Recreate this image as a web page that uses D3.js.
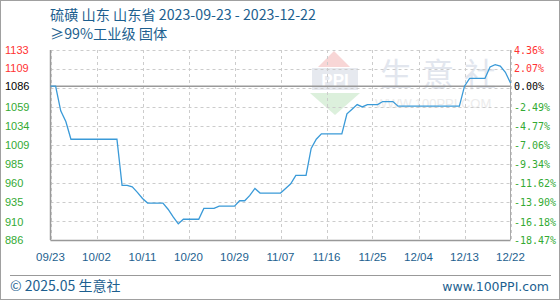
<!DOCTYPE html>
<html>
<head>
<meta charset="utf-8">
<script src="https://cdn.jsdelivr.net/npm/d3@7"></script>
<style>
  body { margin: 0; background: #fff; }
  svg text { font-family: "Liberation Sans", Arial, sans-serif; }
</style>
</head>
<body>
<div id="chart"></div>
<script>
// price series, one value per day from 2023-09-23 to 2023-12-22
var startDate = "2023-09-23";
var prices = [
  1086, 1086, 1054, 1040, 1017, 1017, 1017, 1017, 1017, 1017,
  1017, 1017, 1017, 1017, 957, 957, 955, 948, 940, 934,
  934, 934, 934, 926, 916, 907, 913, 913, 913, 913,
  927, 927, 927, 930, 930, 930, 930, 937, 937, 944,
  953, 947, 947, 947, 947, 947, 953, 959, 970, 970,
  970, 1005, 1017, 1024, 1024, 1024, 1024, 1024, 1050, 1056,
  1062, 1059, 1062, 1062, 1062, 1066, 1066, 1066, 1060, 1060,
  1060, 1060, 1060, 1060, 1060, 1060, 1060, 1060, 1060, 1060,
  1060, 1086, 1096, 1096, 1096, 1096, 1111, 1114, 1112, 1104,
  1090
];
var baseValue = 1086;
var yTickValues = [1133, 1109, 1086, 1059, 1034, 1009, 985, 960, 935, 910, 886];
var yTickPercents = ["4.36%", "2.07%", "0.00%", "-2.49%", "-4.77%", "-7.06%", "-9.34%", "-11.62%", "-13.90%", "-16.18%", "-18.47%"];
var xTickLabels = ["09/23", "10/02", "10/11", "10/20", "10/29", "11/07", "11/16", "11/25", "12/04", "12/13", "12/22"];
var titleLine1 = "硫磺 山东 山东省 2023-09-23 - 2023-12-22";
var titleLine2 = "≥99%工业级 固体";

var width = 560, height = 300;
var plotLeft = 50.5, plotRight = 510.5, plotTop = 50, plotBottom = 240;

var svg = d3.select("#chart").append("svg")
    .attr("width", width)
    .attr("height", height);

// outer frame
svg.append("rect")
    .attr("x", 0.5).attr("y", 0.5)
    .attr("width", width - 1).attr("height", height - 1)
    .attr("fill", "#fff").attr("stroke", "#a0a0a0");

var parse = d3.timeParse("%Y-%m-%d");
var t0 = parse(startDate);
var data = prices.map(function(v, i) { return { date: d3.timeDay.offset(t0, i), value: v }; });

var x = d3.scaleTime()
    .domain([t0, d3.timeDay.offset(t0, prices.length - 1)])
    .range([plotLeft, plotRight]);
var y = d3.scaleLinear()
    .domain([d3.min(yTickValues), d3.max(yTickValues)])
    .range([plotBottom, plotTop]);

// watermark
var wm = svg.append("g");
wm.append("path")
    .attr("d", "M318,67 L334,51 L350,67 Z")
    .attr("fill", "#f8d6d6");
wm.append("rect")
    .attr("x", 312).attr("y", 68).attr("width", 46).attr("height", 22)
    .attr("fill", "#e6e9ef");
wm.append("text")
    .attr("x", 335).attr("y", 86)
    .attr("text-anchor", "middle")
    .attr("font-size", 17).attr("font-weight", "bold")
    .attr("fill", "#ffffff")
    .text("PPI");
wm.append("path")
    .attr("d", "M310,93 L360,93 L335,115 Z")
    .attr("fill", "#dcf0dc");
wm.append("text")
    .attr("x", 380).attr("y", 86)
    .attr("font-size", 32)
    .attr("letter-spacing", 10)
    .style("font-family", "'Noto Sans CJK SC', sans-serif")
    .attr("fill", "#e2e6ee")
    .text("生意社");
wm.append("text")
    .attr("x", 375).attr("y", 108)
    .attr("font-size", 13)
    .attr("fill", "#ececec")
    .text("WWW.100PPI.COM");

// grid
var gridVals = d3.range(11).map(function(i) { return y.domain()[0] + i * (y.domain()[1] - y.domain()[0]) / 10; });
svg.append("g").selectAll("line")
  .data(gridVals)
  .enter().append("line")
    .attr("x1", plotLeft).attr("x2", plotRight)
    .attr("y1", function(d) { return Math.round(y(d)) + 0.5; })
    .attr("y2", function(d) { return Math.round(y(d)) + 0.5; })
    .attr("stroke", "#cccccc")
    .attr("stroke-dasharray", "3,3");

var xTicks = xTickLabels.map(function(l, i) { return d3.timeDay.offset(t0, i * 9); });
svg.append("g").selectAll("line")
  .data(xTicks)
  .enter().append("line")
    .attr("x1", function(d) { return Math.round(x(d)) + 0.5; })
    .attr("x2", function(d) { return Math.round(x(d)) + 0.5; })
    .attr("y1", plotTop).attr("y2", plotBottom)
    .attr("stroke", "#cccccc")
    .attr("stroke-dasharray", "3,3");

// frame lines
svg.append("line")
    .attr("x1", plotLeft).attr("x2", plotLeft).attr("y1", plotTop).attr("y2", plotBottom)
    .attr("stroke", "#999").attr("stroke-width", 1.5);
svg.append("line")
    .attr("x1", plotRight).attr("x2", plotRight).attr("y1", plotTop).attr("y2", plotBottom)
    .attr("stroke", "#aaa");
svg.append("line")
    .attr("x1", plotLeft).attr("x2", plotRight).attr("y1", plotBottom + 0.5).attr("y2", plotBottom + 0.5)
    .attr("stroke", "#999").attr("stroke-width", 1.5);
svg.append("line")
    .attr("x1", plotLeft).attr("x2", plotRight)
    .attr("y1", y(baseValue)).attr("y2", y(baseValue))
    .attr("stroke", "#999").attr("stroke-width", 1.5);

function tickColor(v) {
  if (v > baseValue) return "#ff3333";
  if (v < baseValue) return "#33aa33";
  return "#000000";
}

// left labels
svg.append("g").selectAll("text")
  .data(yTickValues)
  .enter().append("text")
    .attr("x", 5)
    .attr("y", function(d) { return y(d) + 4; })
    .attr("font-size", 11)
    .attr("fill", tickColor)
    .text(function(d) { return d; });

// right labels
svg.append("g").selectAll("text")
  .data(yTickValues)
  .enter().append("text")
    .attr("x", 514)
    .attr("y", function(d) { return y(d) + 4; })
    .attr("font-size", 10)
    .style("font-family", "'DejaVu Sans Mono', monospace")
    .attr("fill", tickColor)
    .text(function(d, i) { return yTickPercents[i]; });

// x labels
svg.append("g").selectAll("text")
  .data(xTicks)
  .enter().append("text")
    .attr("x", function(d) { return x(d); })
    .attr("y", 261)
    .attr("text-anchor", "middle")
    .attr("font-size", 11.5)
    .attr("fill", "#1d5f8f")
    .text(function(d, i) { return xTickLabels[i]; });

// price line
var line = d3.line()
    .x(function(d) { return x(d.date); })
    .y(function(d) { return y(d.value); });
svg.append("path")
    .datum(data)
    .attr("d", line)
    .attr("fill", "none")
    .attr("stroke", "#3a9ad8")
    .attr("stroke-width", 1.3);

// titles
svg.append("text")
    .attr("x", 50).attr("y", 20)
    .attr("font-size", 14.2)
    .style("font-family", "'Noto Sans CJK SC', sans-serif")
    .attr("fill", "#1d5f8f")
    .text(titleLine1);
svg.append("text")
    .attr("x", 50).attr("y", 39)
    .attr("font-size", 14.2)
    .style("font-family", "'Noto Sans CJK SC', sans-serif")
    .attr("fill", "#1d5f8f")
    .text(titleLine2);

// footer
svg.append("line")
    .attr("x1", 10).attr("x2", 551).attr("y1", 275.5).attr("y2", 275.5)
    .attr("stroke", "#999");
svg.append("text")
    .attr("x", 10).attr("y", 291)
    .attr("font-size", 14)
    .style("font-family", "'Noto Sans CJK SC', sans-serif")
    .attr("fill", "#1d5f8f")
    .text("© 2025.05 生意社");
svg.append("text")
    .attr("x", 549).attr("y", 291)
    .attr("text-anchor", "end")
    .attr("font-size", 12.5)
    .style("font-family", "'DejaVu Sans', sans-serif")
    .attr("fill", "#1d5f8f")
    .text("www.100PPI.com");
</script>
</body>
</html>
